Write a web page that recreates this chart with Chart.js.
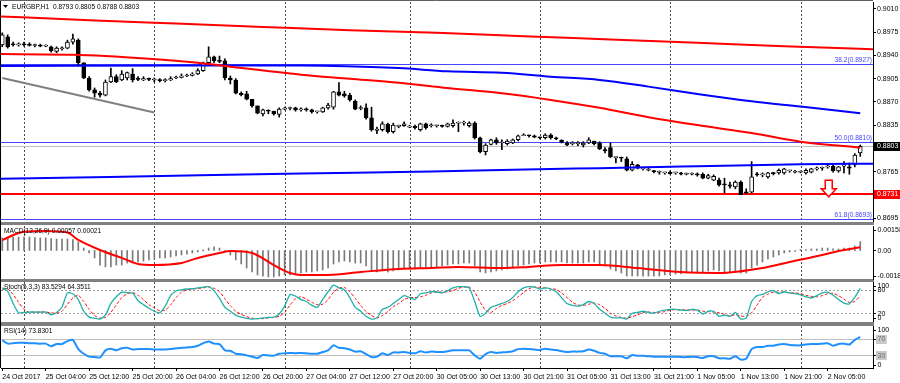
<!DOCTYPE html>
<html><head><meta charset="utf-8">
<script src="https://cdn.jsdelivr.net/npm/chart.js@4.4.1/dist/chart.umd.min.js"></script>
<style>
html,body{margin:0;padding:0;background:#fff;}
#wrap{position:relative;width:900px;height:383px;overflow:hidden;background:#fff;}
canvas{position:absolute;left:0;top:0;}
</style></head><body><div id="wrap">
<canvas id="cMain" width="900" height="383"></canvas>
<canvas id="cMacd" width="900" height="383"></canvas>
<canvas id="cStoch" width="900" height="383"></canvas>
<canvas id="cRsi" width="900" height="383"></canvas>
</div>
<script>
// ---------------- DATA ----------------
const SYMBOL = 'EURGBP,H1';
const FIRST_BAR = -4; // bar index of first candle (25 Oct 00:00 = 0)
const opens = [
0.8956,0.8968,0.8957,0.8956,0.8957,0.8957,0.8955,0.8955,0.8954,0.8953,
0.8946,0.8950,0.8951,0.8960,0.8963,0.8929,0.8906,0.8888,0.8883,0.8880,
0.8900,0.8908,0.8903,0.8906,0.8912,0.8905,0.8903,0.8905,0.8903,0.8903,
0.8902,0.8903,0.8906,0.8907,0.8909,0.8910,0.8912,0.8917,0.8929,0.8938,
0.8932,0.8932,0.8906,0.8903,0.8883,0.8882,0.8874,0.8864,0.8852,0.8857,
0.8856,0.8851,0.8859,0.8860,0.8861,0.8858,0.8859,0.8858,0.8855,0.8855,
0.8861,0.8862,0.8885,0.8882,0.8880,0.8871,0.8860,0.8861,0.8846,0.8827,
0.8828,0.8836,0.8825,0.8833,0.8834,0.8832,0.8833,0.8828,0.8837,0.8834,
0.8834,0.8834,0.8833,0.8834,0.8838,0.8838,0.8834,0.8838,0.8816,0.8795,
0.8806,0.8813,0.8808,0.8807,0.8808,0.8813,0.8819,0.8820,0.8819,0.8817,
0.8816,0.8820,0.8816,0.8812,0.8808,0.8807,0.8807,0.8805,0.8808,0.8811,
0.8808,0.8798,0.8801,0.8786,0.8786,0.8784,0.8767,0.8775,0.8769,0.8767,
0.8766,0.8764,0.8763,0.8764,0.8763,0.8763,0.8761,0.8761,0.8761,0.8761,
0.8755,0.8752,0.8752,0.8746,0.8745,0.8742,0.8749,0.8734,0.8734,0.8761,
0.8760,0.8757,0.8763,0.8763,0.8763,0.8766,0.8764,0.8764,0.8763,0.8764,
0.8769,0.8770,0.8772,0.8773,0.8766,0.8773,0.8772,0.8775,0.8793];
const highs = [
0.8974,0.8971,0.8960,0.8959,0.8960,0.8959,0.8957,0.8957,0.8956,0.8954,
0.8953,0.8953,0.8963,0.8972,0.8965,0.8929,0.8908,0.8891,0.8886,0.8903,
0.8921,0.8911,0.8917,0.8915,0.8920,0.8908,0.8908,0.8906,0.8906,0.8905,
0.8905,0.8908,0.8909,0.8912,0.8912,0.8914,0.8920,0.8930,0.8953,0.8939,
0.8939,0.8935,0.8909,0.8905,0.8885,0.8886,0.8874,0.8864,0.8859,0.8858,
0.8856,0.8861,0.8862,0.8862,0.8862,0.8861,0.8861,0.8859,0.8856,0.8862,
0.8868,0.8886,0.8899,0.8886,0.8883,0.8873,0.8864,0.8867,0.8862,0.8832,
0.8840,0.8838,0.8838,0.8835,0.8840,0.8835,0.8835,0.8838,0.8838,0.8837,
0.8835,0.8835,0.8838,0.8843,0.8840,0.8841,0.8840,0.8840,0.8817,0.8807,
0.8814,0.8816,0.8813,0.8813,0.8814,0.8820,0.8822,0.8820,0.8820,0.8817,
0.8822,0.8822,0.8817,0.8813,0.8810,0.8810,0.8810,0.8810,0.8816,0.8811,
0.8810,0.8801,0.8808,0.8787,0.8787,0.8787,0.8780,0.8776,0.8770,0.8770,
0.8767,0.8766,0.8764,0.8766,0.8764,0.8764,0.8763,0.8763,0.8763,0.8763,
0.8761,0.8760,0.8755,0.8755,0.8749,0.8751,0.8751,0.8739,0.8780,0.8764,
0.8763,0.8764,0.8764,0.8769,0.8770,0.8767,0.8767,0.8766,0.8769,0.8770,
0.8772,0.8772,0.8775,0.8775,0.8773,0.8780,0.8778,0.8792,0.8805];
const lows = [
0.8953,0.8951,0.8954,0.8954,0.8954,0.8954,0.8953,0.8953,0.8953,0.8945,
0.8944,0.8948,0.8950,0.8957,0.8924,0.8905,0.8886,0.8877,0.8877,0.8879,
0.8899,0.8899,0.8902,0.8903,0.8900,0.8902,0.8902,0.8902,0.8900,0.8900,
0.8900,0.8902,0.8905,0.8906,0.8908,0.8909,0.8911,0.8916,0.8926,0.8929,
0.8929,0.8903,0.8897,0.8882,0.8879,0.8873,0.8862,0.8852,0.8849,0.8852,
0.8850,0.8847,0.8858,0.8858,0.8856,0.8856,0.8856,0.8853,0.8853,0.8854,
0.8859,0.8859,0.8879,0.8877,0.8871,0.8858,0.8858,0.8844,0.8826,0.8822,
0.8826,0.8823,0.8823,0.8831,0.8833,0.8831,0.8829,0.8826,0.8829,0.8832,
0.8832,0.8832,0.8832,0.8832,0.8825,0.8835,0.8832,0.8814,0.8793,0.8790,
0.8805,0.8806,0.8798,0.8805,0.8807,0.8811,0.8819,0.8817,0.8816,0.8814,
0.8814,0.8814,0.8813,0.8808,0.8804,0.8805,0.8804,0.8802,0.8807,0.8805,
0.8798,0.8793,0.8786,0.8778,0.8780,0.8766,0.8766,0.8769,0.8767,0.8766,
0.8763,0.8761,0.8761,0.8761,0.8761,0.8760,0.8760,0.8760,0.8758,0.8754,
0.8754,0.8751,0.8743,0.8733,0.8740,0.8739,0.8730,0.8731,0.8733,0.8758,
0.8757,0.8755,0.8760,0.8761,0.8761,0.8764,0.8763,0.8763,0.8761,0.8763,
0.8767,0.8767,0.8770,0.8764,0.8764,0.8763,0.8761,0.8772,0.8788];
const closes = [
0.8971,0.8953,0.8956,0.8957,0.8956,0.8955,0.8955,0.8954,0.8954,0.8947,
0.8951,0.8951,0.8960,0.8965,0.8929,0.8906,0.8888,0.8883,0.8880,0.8900,
0.8908,0.8900,0.8912,0.8914,0.8903,0.8904,0.8905,0.8904,0.8903,0.8902,
0.8902,0.8905,0.8907,0.8909,0.8910,0.8912,0.8917,0.8929,0.8938,0.8932,
0.8931,0.8906,0.8903,0.8883,0.8881,0.8874,0.8864,0.8853,0.8858,0.8856,
0.8852,0.8859,0.8860,0.8861,0.8858,0.8859,0.8858,0.8855,0.8855,0.8861,
0.8865,0.8885,0.8880,0.8879,0.8873,0.8859,0.8861,0.8846,0.8828,0.8829,
0.8837,0.8825,0.8835,0.8833,0.8837,0.8832,0.8831,0.8837,0.8831,0.8835,
0.8834,0.8833,0.8837,0.8838,0.8838,0.8839,0.8838,0.8816,0.8795,0.8805,
0.8813,0.8808,0.8809,0.8811,0.8813,0.8819,0.8820,0.8819,0.8817,0.8816,
0.8820,0.8816,0.8814,0.8809,0.8805,0.8807,0.8807,0.8808,0.8813,0.8807,
0.8799,0.8796,0.8787,0.8786,0.8785,0.8767,0.8776,0.8770,0.8769,0.8767,
0.8765,0.8764,0.8763,0.8762,0.8763,0.8761,0.8761,0.8762,0.8760,0.8755,
0.8759,0.8758,0.8745,0.8745,0.8743,0.8749,0.8730,0.8733,0.8757,0.8760,
0.8760,0.8763,0.8762,0.8767,0.8769,0.8766,0.8765,0.8764,0.8767,0.8769,
0.8769,0.8770,0.8772,0.8766,0.8772,0.8775,0.8770,0.8790,0.8803];

// moving averages / trendline (bar index, price)
const MA_SLOW_IDX = [-5,12,28,44,60,76,92,108,124,140,157];
const MA_SLOW     = [0.8999,0.8993,0.8988,0.8983,0.8978,0.8974,0.8969,0.8964,0.8959,0.8954,0.8949];
const MA_MID_IDX  = [-5,9,23,32,38,51,60,69,78,88,97,106,115,124,134,143,154];
const MA_MID      = [0.8942,0.8941,0.8935,0.8929,0.8923,0.8911,0.8905,0.8899,0.8891,0.8883,0.8873,0.8861,0.8847,0.8835,0.8823,0.8810,0.8801];
const MA_BLUE_IDX = [-5,32,51,69,78,88,97,106,115,124,134,143,154];
const MA_BLUE     = [0.8924,0.8925,0.8925,0.8921,0.8916,0.8914,0.8908,0.8903,0.8893,0.8882,0.8871,0.8863,0.8853];
const MA_LOW_IDX  = [-5,23,51,75,97,106,117,124,143,157];
const MA_LOW      = [0.8754,0.8758,0.8762,0.8765,0.8769,0.8770,0.8772,0.8773,0.8776,0.8777];
const TREND_IDX   = [-4,24];
const TREND       = [0.8906,0.8854];

const FIB_LEVELS = ['38.2','50.0','61.8'];
const FIB_PRICES = [0.8927,0.8810,0.8693];
const SUPPORT_PRICE = 0.8731;
const ARROW = {i:148.2, top:0.8752, neck:0.8739, tip:0.8727};

const PRICE_TICKS = [0.9010,0.8975,0.8940,0.8905,0.8870,0.8835,0.8765,0.8695];
const DAY_START_IDX = [0,24,48,71,95,119,143];
const X_TICK_IDX = [-4,4,12,20,28,36,44,52,60,68,76,84,92,100,108,116,124,132,140,148];
const X_TICK_LABELS = ['24 Oct 2017','25 Oct 04:00','25 Oct 12:00','25 Oct 20:00','26 Oct 04:00','26 Oct 12:00','26 Oct 20:00','27 Oct 04:00','27 Oct 12:00','27 Oct 20:00','30 Oct 05:00','30 Oct 13:00','30 Oct 21:00','31 Oct 05:00','31 Oct 13:00','31 Oct 21:00','1 Nov 05:00','1 Nov 13:00','1 Nov 21:00','2 Nov 05:00'];

// MACD(12,26,9)
const MACD_HIST = [
0.00081,0.00087,0.00087,0.00087,0.00087,0.00087,0.00084,0.00081,0.00081,0.00077,
0.00074,0.00074,0.00074,0.00071,0.00055,0.00016,-0.00016,-0.00048,-0.00094,-0.00106,
-0.00106,-0.00094,-0.00094,-0.00081,-0.00081,-0.00074,-0.00068,-0.00061,-0.00055,-0.00048,
-0.00048,-0.00042,-0.00035,-0.00029,-0.00023,-0.00016,-0.00010,0.00000,0.00016,0.00023,
0.00016,-0.00003,-0.00029,-0.00061,-0.00087,-0.00113,-0.00139,-0.00158,-0.00165,-0.00171,
-0.00171,-0.00165,-0.00158,-0.00158,-0.00152,-0.00145,-0.00139,-0.00139,-0.00132,-0.00126,
-0.00113,-0.00087,-0.00074,-0.00068,-0.00074,-0.00081,-0.00081,-0.00100,-0.00132,-0.00139,
-0.00132,-0.00139,-0.00132,-0.00126,-0.00119,-0.00119,-0.00119,-0.00113,-0.00113,-0.00106,
-0.00106,-0.00100,-0.00094,-0.00087,-0.00087,-0.00081,-0.00081,-0.00100,-0.00139,-0.00145,
-0.00139,-0.00132,-0.00126,-0.00119,-0.00113,-0.00100,-0.00094,-0.00087,-0.00081,-0.00081,
-0.00074,-0.00074,-0.00074,-0.00074,-0.00081,-0.00081,-0.00081,-0.00081,-0.00074,-0.00074,
-0.00087,-0.00100,-0.00119,-0.00132,-0.00145,-0.00165,-0.00165,-0.00165,-0.00165,-0.00165,
-0.00165,-0.00165,-0.00158,-0.00158,-0.00152,-0.00152,-0.00145,-0.00139,-0.00139,-0.00139,
-0.00132,-0.00126,-0.00132,-0.00139,-0.00139,-0.00132,-0.00145,-0.00145,-0.00113,-0.00094,
-0.00074,-0.00055,-0.00042,-0.00029,-0.00016,-0.00010,-0.00003,0.00001,0.00003,0.00010,
0.00010,0.00016,0.00016,0.00010,0.00010,0.00016,0.00016,0.00029,0.00057];
const MACD_SIG_IDX = [-4,0,4,8,10,14,18,21,24,29,32,36,38,42,46,49,51,56,62,69,75,80,88,93,99,106,113,121,128,136,141,147,150,154];
const MACD_SIG     = [0.00068,0.00121,0.00126,0.00116,0.00068,0.00003,-0.00048,-0.00087,-0.00094,-0.00081,-0.00048,-0.00016,-0.00003,-0.00016,-0.00094,-0.00145,-0.00158,-0.00158,-0.00139,-0.00119,-0.00113,-0.00106,-0.00113,-0.00106,-0.00094,-0.00094,-0.00113,-0.00139,-0.00145,-0.00113,-0.00074,-0.00029,-0.00003,0.00021];
const MACD_TOP = 0.00158, MACD_BOTTOM = -0.00184;

// Stochastic(5,3,3)
const STOCH_MAIN = [
85,76,45,21,22,23,23,23,23,16,
22,36,72,70,55,25,10,7,5,15,
45,62,74,73,72,52,42,33,25,21,
38,65,77,80,82,83,85,87,88,78,
58,35,25,15,10,7,5,6,8,9,
10,18,38,68,64,55,50,40,35,55,
75,92,85,80,60,35,25,12,5,8,
30,35,45,55,65,60,55,70,72,75,
75,72,78,85,88,88,85,50,12,20,
35,40,45,50,60,75,85,88,87,82,
85,82,75,60,45,40,38,42,50,45,
30,20,10,8,8,5,20,22,25,22,
20,25,28,30,30,28,27,30,28,18,
25,25,12,15,12,22,5,8,50,65,
68,75,78,70,75,72,70,67,62,59,
65,72,74,66,55,46,44,61,83.5294];
const STOCH_SIG = [
80,82,68,48,30,22,23,23,23,21,
20,25,43,59,66,50,30,14,7,9,
22,41,60,70,73,66,55,42,33,26,
28,41,60,74,80,82,83,85,87,84,
75,57,39,25,17,11,7,6,6,8,
9,12,22,41,57,62,56,48,42,43,
55,74,84,86,75,58,40,24,14,8,
14,24,37,45,55,60,60,62,66,72,
74,74,75,78,84,87,87,74,49,27,
22,32,40,45,52,62,73,83,87,86,
85,83,81,72,60,48,41,40,43,46,
42,32,20,13,9,7,11,16,22,23,
22,22,24,28,29,29,28,28,28,25,
24,23,21,17,13,16,13,12,21,41,
61,69,74,74,74,72,72,70,66,63,
62,65,70,71,65,56,48,50,64.3511];

// RSI(14)
const RSI = [
66,58,59,60,60,59,59,58,58,52,
57,57,64,67,45,34,27,26,25,42,
46,42,47,48,44,45,45,45,44,44,
44,45,47,48,49,50,53,59,63,58,
57,42,41,34,33,30,27,24,31,30,
29,34,35,36,35,36,35,34,34,38,
42,54,48,47,44,39,40,33,26,27,
35,31,37,37,38,36,35,40,37,39,
38,38,40,42,42,42,42,30,22,33,
38,36,37,38,40,45,46,45,44,43,
46,44,43,40,38,39,39,40,44,41,
36,34,28,28,28,23,31,29,29,28,
27,27,27,27,27,26,26,27,26,24,
28,28,23,23,22,28,20,22,45,50,
50,53,53,56,57,55,54,54,56,57,
57,58,59,53,57,58,56,67,73.8301];

// ---------------- LAYOUT / STYLE ----------------
const W = 900, H = 383;
const PLOT_LEFT = 1, AXIS_W = 27;
const X_MIN = -4.236, X_MAX = 156.35;
const PANELS = {main:[2,222], macd:[226,279], stoch:[282,321], rsi:[326,368]};
const X_AXIS_H = 15;
const FONT = '"Liberation Sans", Arial, sans-serif';
const FIB_COLOR = '#4646ff';
Chart.defaults.font.family = FONT;
Chart.defaults.font.size = 7;
Chart.defaults.color = '#000';

const barIdx = opens.map((_, k) => FIRST_BAR + k);
const pts = (idx, vals) => idx.map((x, k) => ({x, y: vals[k]}));
const series = vals => vals.map((v, k) => ({x: FIRST_BAR + k, y: v}));

function drawDaySeparators(chart) {
  const {ctx, chartArea: a, scales: {x}} = chart;
  ctx.save();
  ctx.strokeStyle = '#4a4a4a'; ctx.lineWidth = 1; ctx.setLineDash([2, 2]);
  DAY_START_IDX.forEach(i => {
    const px = Math.round(x.getPixelForValue(i)) + 0.5;
    ctx.beginPath(); ctx.moveTo(px, a.top); ctx.lineTo(px, a.bottom); ctx.stroke();
  });
  ctx.restore();
}

function hLine(ctx, a, py, color, width, dash) {
  ctx.save();
  ctx.strokeStyle = color; ctx.lineWidth = width; ctx.setLineDash(dash || []);
  const y = width % 2 ? Math.round(py) + 0.5 : Math.round(py);
  ctx.beginPath(); ctx.moveTo(a.left, y); ctx.lineTo(a.right, y); ctx.stroke();
  ctx.restore();
}

function xScale(show) {
  return {
    type: 'linear', min: X_MIN, max: X_MAX, offset: false, display: show,
    grid: {display: show, drawOnChartArea: false, drawTicks: true, tickLength: 3, color: '#000'},
    border: {display: show, color: '#000'},
    ticks: {autoSkip: false, maxRotation: 0, minRotation: 0, align: 'start', padding: 2, color: '#000',
            font: {size: 7}, callback: v => X_TICK_LABELS[X_TICK_IDX.indexOf(v)] || ''},
    afterBuildTicks: s => { s.ticks = X_TICK_IDX.map(v => ({value: v})); },
    afterFit: s => { if (show) s.height = X_AXIS_H; s.paddingLeft = 0; s.paddingRight = 0; }
  };
}
function subYScale(min, max) {
  return {
    type: 'linear', position: 'right', min, max,
    grid: {display: false}, border: {display: true, color: '#000'},
    ticks: {display: false},
    afterFit: s => { s.width = AXIS_W; s.paddingTop = 0; s.paddingBottom = 0; }
  };
}
function layoutFor(panel, showX) {
  return {padding: {left: PLOT_LEFT, right: 0, top: panel[0], bottom: H - panel[1] - (showX ? X_AXIS_H : 0)}};
}
function sideLabels(items) {
  return {
    id: 'sideLabels',
    afterDraw(chart) {
      const {ctx, chartArea: a, scales: {y}} = chart;
      ctx.save();
      ctx.font = '7px ' + FONT; ctx.textBaseline = 'middle'; ctx.textAlign = 'left';
      items.forEach(it => {
        let py = y.getPixelForValue(it.v);
        py = Math.max(a.top + 3.5, Math.min(a.bottom - 3.5, py));
        ctx.strokeStyle = '#000'; ctx.lineWidth = 1;
        ctx.beginPath(); ctx.moveTo(a.right, Math.round(py) + 0.5); ctx.lineTo(a.right + 3, Math.round(py) + 0.5); ctx.stroke();
        if (it.box) {
          const w = ctx.measureText(it.t).width + 3;
          ctx.fillStyle = '#c8c8c8'; ctx.fillRect(a.right + 3, Math.round(py) - 4, w, 9);
          ctx.fillStyle = '#6a6a6a';
        } else ctx.fillStyle = '#000';
        ctx.fillText(it.t, a.right + 4.5, py + 0.5);
      });
      ctx.restore();
    }
  };
}
function titlePlugin(text) {
  return {
    id: 'title',
    afterDraw(chart) {
      const {ctx, chartArea: a} = chart;
      ctx.save(); ctx.font = '6.6px ' + FONT; ctx.fillStyle = '#000';
      ctx.textBaseline = 'top'; ctx.textAlign = 'left';
      ctx.fillText(text, a.left + 3, a.top + 1.5);
      ctx.restore();
    }
  };
}
const commonOpts = {
  responsive: false, animation: false, devicePixelRatio: 1,
  plugins: {legend: {display: false}, tooltip: {enabled: false}},
  events: []
};

// ---------------- MAIN PRICE CHART ----------------
const mainDeco = {
  id: 'mainDeco',
  beforeDatasetsDraw(chart) {
    const {ctx, chartArea: a, scales: {y}} = chart;
    drawDaySeparators(chart);
    FIB_PRICES.forEach(p => hLine(ctx, a, y.getPixelForValue(p), FIB_COLOR, 1));
    hLine(ctx, a, y.getPixelForValue(closes[closes.length - 1]), '#c0c0c0', 1);
    hLine(ctx, a, y.getPixelForValue(SUPPORT_PRICE), '#ff0000', 2);
  },
  afterDatasetsDraw(chart) {
    const {ctx, chartArea: a, scales: {x, y}} = chart;
    ctx.save();
    // fibonacci labels
    ctx.font = '6.6px ' + FONT; ctx.fillStyle = FIB_COLOR; ctx.textAlign = 'right'; ctx.textBaseline = 'bottom';
    FIB_PRICES.forEach((p, k) => ctx.fillText(FIB_LEVELS[k] + '(' + p.toFixed(4) + ')', a.right - 1, y.getPixelForValue(p) - 0.5));
    // arrow
    const cx = x.getPixelForValue(ARROW.i), yt = y.getPixelForValue(ARROW.top),
          yn = y.getPixelForValue(ARROW.neck), yp = y.getPixelForValue(ARROW.tip);
    ctx.beginPath();
    ctx.moveTo(cx - 3.5, yt); ctx.lineTo(cx + 3.5, yt); ctx.lineTo(cx + 3.5, yn); ctx.lineTo(cx + 7.5, yn);
    ctx.lineTo(cx, yp); ctx.lineTo(cx - 7.5, yn); ctx.lineTo(cx - 3.5, yn); ctx.closePath();
    ctx.fillStyle = '#fff'; ctx.fill(); ctx.strokeStyle = '#ff0000'; ctx.lineWidth = 1.5; ctx.stroke();
    ctx.restore();
  },
  afterDraw(chart) {
    const {ctx, chartArea: a, scales: {y}} = chart;
    ctx.save();
    // price tags on axis
    const tag = (p, bg) => {
      const py = Math.round(y.getPixelForValue(p));
      ctx.fillStyle = bg; ctx.fillRect(a.right + 1, py - 4, W - a.right - 1, 9);
      ctx.fillStyle = '#fff'; ctx.font = '7px ' + FONT; ctx.textBaseline = 'middle'; ctx.textAlign = 'left';
      ctx.fillText(p.toFixed(4), a.right + 4, py + 0.5);
    };
    tag(closes[closes.length - 1], '#000');
    tag(SUPPORT_PRICE, '#ff0000');
    // header
    ctx.fillStyle = '#000';
    ctx.beginPath(); ctx.moveTo(3, 5); ctx.lineTo(8, 5); ctx.lineTo(5.5, 8); ctx.closePath(); ctx.fill();
    ctx.font = '6.6px ' + FONT; ctx.textBaseline = 'middle'; ctx.textAlign = 'left';
    const n = closes.length - 1;
    ctx.fillText(SYMBOL + '  ' + [opens[n], highs[n], lows[n], closes[n]].map(v => v.toFixed(4)).join(' '), 12, 7);
    // panel separators and frame
    ctx.fillStyle = '#808080';
    ctx.fillRect(0, PANELS.main[1], a.right + 1, PANELS.macd[0] - PANELS.main[1] - 1);
    ctx.fillRect(0, PANELS.macd[1], a.right + 1, PANELS.stoch[0] - PANELS.macd[1]);
    ctx.fillRect(0, PANELS.stoch[1] + 1, a.right + 1, PANELS.rsi[0] - PANELS.stoch[1] - 1);
    ctx.strokeStyle = '#000'; ctx.lineWidth = 1;
    ctx.beginPath(); ctx.moveTo(0.5, 0); ctx.lineTo(0.5, PANELS.rsi[1]); ctx.stroke();
    ctx.strokeStyle = '#606060';
    ctx.beginPath(); ctx.moveTo(0, 0.5); ctx.lineTo(a.right, 0.5); ctx.stroke();
    ctx.restore();
  }
};

new Chart(document.getElementById('cMain'), {
  type: 'bar',
  data: {datasets: [
    {type: 'line', data: pts(MA_SLOW_IDX, MA_SLOW), borderColor: '#ff0000', borderWidth: 2, pointRadius: 0, cubicInterpolationMode: 'monotone', order: 0},
    {type: 'line', data: pts(MA_MID_IDX, MA_MID), borderColor: '#ff0000', borderWidth: 2, pointRadius: 0, cubicInterpolationMode: 'monotone', order: 0},
    {type: 'line', data: pts(MA_BLUE_IDX, MA_BLUE), borderColor: '#0000ff', borderWidth: 2, pointRadius: 0, cubicInterpolationMode: 'monotone', order: 0},
    {type: 'line', data: pts(MA_LOW_IDX, MA_LOW), borderColor: '#0000ff', borderWidth: 2, pointRadius: 0, cubicInterpolationMode: 'monotone', order: 0},
    {type: 'line', data: pts(TREND_IDX, TREND), borderColor: '#808080', borderWidth: 2, pointRadius: 0, tension: 0, order: 0},
    {type: 'bar', data: barIdx.map((i, k) => ({x: i, y: [lows[k], highs[k]]})), backgroundColor: '#000',
     borderWidth: 0, barThickness: 1, grouped: false, order: 3},
    {type: 'bar', data: barIdx.map((i, k) => ({x: i, y: [opens[k], closes[k]]})),
     backgroundColor: c => closes[c.dataIndex] >= opens[c.dataIndex] ? '#ffffff' : '#000000',
     borderColor: '#000', borderWidth: 1, borderSkipped: false, barThickness: 4, minBarLength: 1, grouped: false, order: 2}
  ]},
  options: Object.assign({}, commonOpts, {
    layout: layoutFor(PANELS.main, false),
    scales: {
      x: xScale(false),
      y: {
        type: 'linear', position: 'right', min: 0.86890, max: 0.90205,
        grid: {display: true, drawOnChartArea: false, drawTicks: true, tickLength: 3, color: '#000'},
        border: {display: true, color: '#000'},
        ticks: {autoSkip: false, padding: 1, color: '#000', font: {size: 7}, callback: v => v.toFixed(4)},
        afterBuildTicks: s => { s.ticks = PRICE_TICKS.map(v => ({value: v})); },
        afterFit: s => { s.width = AXIS_W; s.paddingTop = 0; s.paddingBottom = 0; }
      }
    }
  }),
  plugins: [mainDeco]
});

// ---------------- MACD ----------------
new Chart(document.getElementById('cMacd'), {
  type: 'bar',
  data: {datasets: [
    {type: 'line', data: pts(MACD_SIG_IDX, MACD_SIG), borderColor: '#ff0000', borderWidth: 2, pointRadius: 0, cubicInterpolationMode: 'monotone', order: 0},
    {type: 'bar', data: series(MACD_HIST), backgroundColor: '#7a7a7a', borderWidth: 0, barThickness: 1, minBarLength: 1, grouped: false, order: 1}
  ]},
  options: Object.assign({}, commonOpts, {
    layout: layoutFor(PANELS.macd, false),
    scales: {x: xScale(false), y: subYScale(MACD_BOTTOM, MACD_TOP)}
  }),
  plugins: [{id: 'macdSep', beforeDatasetsDraw: drawDaySeparators},
            sideLabels([{v: MACD_TOP, t: MACD_TOP.toFixed(5)}, {v: 0, t: '0.00'}, {v: MACD_BOTTOM, t: MACD_BOTTOM.toFixed(5)}]),
            titlePlugin('MACD(12,26,9) ' + MACD_HIST[MACD_HIST.length - 1].toFixed(5) + ' ' + MACD_SIG[MACD_SIG.length - 1].toFixed(5))]
});

// ---------------- STOCHASTIC ----------------
new Chart(document.getElementById('cStoch'), {
  type: 'line',
  data: {datasets: [
    {data: series(STOCH_MAIN), borderColor: '#20b2aa', borderWidth: 1.3, pointRadius: 0, tension: 0.2},
    {data: series(STOCH_SIG), borderColor: '#ff0000', borderWidth: 1, borderDash: [3, 2], pointRadius: 0, tension: 0.2}
  ]},
  options: Object.assign({}, commonOpts, {
    layout: layoutFor(PANELS.stoch, false),
    scales: {x: xScale(false), y: subYScale(0, 100)}
  }),
  plugins: [{id: 'stochDeco', beforeDatasetsDraw(chart) {
              drawDaySeparators(chart);
              const {ctx, chartArea: a, scales: {y}} = chart;
              [80, 20].forEach(v => hLine(ctx, a, y.getPixelForValue(v), '#a0a0a0', 1, [2, 2]));
            }},
            sideLabels([{v: 100, t: '100'}, {v: 80, t: '80'}, {v: 20, t: '20'}, {v: 0, t: '0'}]),
            titlePlugin('Stoch(5,3,3) ' + STOCH_MAIN[STOCH_MAIN.length - 1].toFixed(4) + ' ' + STOCH_SIG[STOCH_SIG.length - 1].toFixed(4))]
});

// ---------------- RSI ----------------
new Chart(document.getElementById('cRsi'), {
  type: 'line',
  data: {datasets: [
    {data: series(RSI), borderColor: '#1e90ff', borderWidth: 2, pointRadius: 0, tension: 0.2}
  ]},
  options: Object.assign({}, commonOpts, {
    layout: layoutFor(PANELS.rsi, true),
    scales: {x: xScale(true), y: subYScale(0, 100)}
  }),
  plugins: [{id: 'rsiDeco', beforeDatasetsDraw(chart) {
              drawDaySeparators(chart);
              const {ctx, chartArea: a, scales: {y}} = chart;
              [70, 30].forEach(v => hLine(ctx, a, y.getPixelForValue(v), '#c0c0c0', 1));
            }},
            sideLabels([{v: 100, t: '100'}, {v: 70, t: '70', box: true}, {v: 30, t: '30', box: true}, {v: 0, t: '0'}]),
            titlePlugin('RSI(14) ' + RSI[RSI.length - 1].toFixed(4))]
});
</script>
</body></html>
